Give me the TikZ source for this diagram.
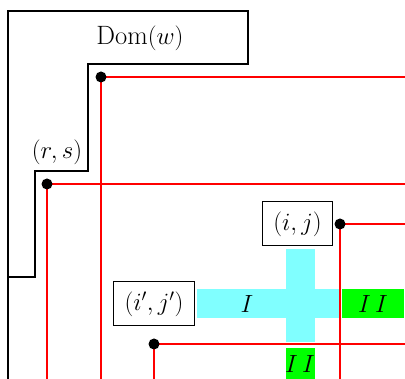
\documentclass[tikz,border=0pt]{standalone}
\usepackage{fontspec}
\definecolor{lightcyan}{RGB}{128,255,255}
\definecolor{puregreen}{RGB}{0,255,0}
\begin{document}
\begin{tikzpicture}[x=1pt,y=-1pt,
  redline/.style={draw=red,line width=1.7pt},
  dot/.style={circle,fill=black,inner sep=0pt,minimum size=11pt},
  lbl/.style={font=\fontsize{26.5}{31}\selectfont,inner sep=0pt},
  boxlbl/.style={draw=black,line width=1pt,fill=white,font=\fontsize{26.5}{31}\selectfont,inner xsep=11pt,inner ysep=8pt,minimum height=44pt},
  cyanfill/.style={fill=lightcyan},
  greenfill/.style={fill=puregreen}]
\useasboundingbox (0,0) rectangle (405,379);
\coordinate (E) at (405,0);
\coordinate (S) at (0,379);
% cyan cross
\fill[cyanfill] (197,289) rectangle (339,318);
\fill[cyanfill] (286,249) rectangle (315,342);
% green boxes
\fill[greenfill] (342,289) rectangle (404,318);
\fill[greenfill] (286,348) rectangle (315,379);
\node[lbl] (I) at (247,304) {$I$};
\node[lbl] (II1) at (373,304) {$I\,I$};
\node[lbl] (II2) at (300,364) {$I\,I$};
% black outline
\draw[line width=1.6pt] (8,379) -- (8,11) -- (248,11) -- (248,64) -- (88,64) -- (88,171) -- (35,171) -- (35,277) -- (8,277);
% labels
\node[lbl] (dom) at (140,38) {Dom$(w)$};
\node[lbl] (rs) at (57,152) {$(r,s)$};
% dots
\coordinate (p1) at (101,77);
\coordinate (p2) at (47,184);
\coordinate (p3) at (340,224);
\coordinate (p4) at (154,344);
\draw[redline] (E |- p1) -- (p1) -- (p1 |- S);
\draw[redline] (E |- p2) -- (p2) -- (p2 |- S);
\draw[redline] (E |- p3) -- (p3) -- (p3 |- S);
\draw[redline] (E |- p4) -- (p4) -- (p4 |- S);
\node[dot] (d1) at (p1) {};
\node[dot] (d2) at (p2) {};
\node[dot] (d3) at (p3) {};
\node[dot] (d4) at (p4) {};
\node[boxlbl] (ij) at (297.5,224) {$(i,j)$};
\node[boxlbl] (ipjp) at (154,304) {$(i',j')$};
\end{tikzpicture}
\end{document}
